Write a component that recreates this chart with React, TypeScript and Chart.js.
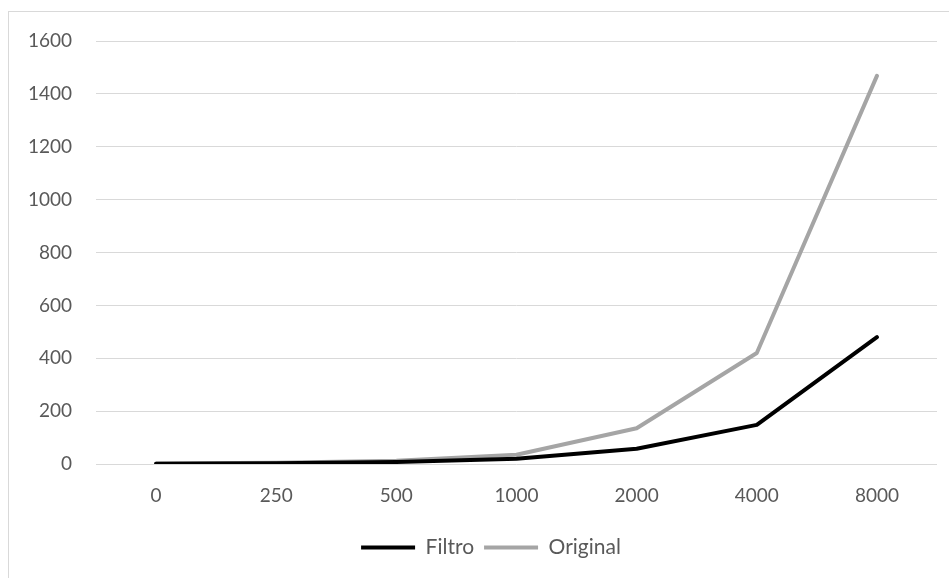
import React, { useEffect, useRef } from "react";
import { Chart, registerables } from "chart.js";

Chart.register(...registerables);

const categories = ["0", "250", "500", "1000", "2000", "4000", "8000"];
const filtroValues = [1, 3, 8, 20, 58, 148, 480];
const originalValues = [2, 5, 12, 35, 135, 420, 1468];
const yTicksMax = 1600;
const yTicksStep = 200;

const FONT = "Lato, 'Open Sans', sans-serif";
const TEXT = "#595959";

export default function App() {
  const ref = useRef<HTMLCanvasElement | null>(null);

  useEffect(() => {
    if (!ref.current) return;
    const legendShift = {
      id: "legendShift",
      afterLayout(chart: any) {
        const lg = chart.legend;
        if (lg) {
          lg.left += 18;
          lg.right += 18;
        }
      },
    };
    const chart = new Chart(ref.current, {
      type: "line",
      data: {
        labels: categories,
        datasets: [
          {
            label: "Filtro",
            data: filtroValues,
            borderColor: "#000000",
            backgroundColor: "#000000",
            borderWidth: 4,
            pointRadius: 0,
            borderCapStyle: "round",
            borderJoinStyle: "round",
            tension: 0,
          },
          {
            label: "Original",
            data: originalValues,
            borderColor: "#a5a5a5",
            backgroundColor: "#a5a5a5",
            borderWidth: 4,
            pointRadius: 0,
            borderCapStyle: "round",
            borderJoinStyle: "round",
            tension: 0,
          },
        ],
      },
      options: {
        animation: false,
        responsive: false,
        maintainAspectRatio: false,
        layout: { padding: { left: 0, right: 12, top: 29, bottom: 10 } },
        plugins: {
          tooltip: { enabled: false },
          legend: {
            position: "bottom",
            labels: {
              boxWidth: 54,
              boxHeight: 4,
              padding: 10,
              color: TEXT,
              font: { family: FONT, size: 21 },
              generateLabels: (c: any) =>
                Chart.defaults.plugins.legend.labels
                  .generateLabels(c)
                  .map((l: any) => ({ ...l, lineWidth: 0 })),
            },
          },
        },
        scales: {
          x: {
            offset: true,
            grid: { display: false, drawTicks: false },
            border: { display: false },
            ticks: {
              color: TEXT,
              font: { family: FONT, size: 19 },
              padding: 20,
              maxRotation: 0,
            },
            afterFit: (s: any) => {
              s.height = 63;
            },
          },
          y: {
            min: 0,
            max: yTicksMax,
            grid: { color: "#d9d9d9", lineWidth: 1, drawTicks: false },
            border: { display: false },
            ticks: {
              stepSize: yTicksStep,
              color: TEXT,
              font: { family: FONT, size: 19 },
              padding: 24,
              callback: (v: any) => String(v),
            },
            afterFit: (s: any) => {
              s.width = 87;
              s.paddingTop = 0;
              s.paddingBottom = 0;
            },
          },
        },
      },
      plugins: [legendShift],
    });
    return () => chart.destroy();
  }, []);

  return (
    <div
      style={{
        position: "absolute",
        left: 8,
        top: 11,
        width: 941,
        height: 567,
        borderLeft: "1px solid #d9d9d9",
        borderTop: "1px solid #d9d9d9",
        background: "#fff",
        overflow: "hidden",
      }}
    >
      <canvas ref={ref} width={940} height={566} style={{ display: "block" }} />
    </div>
  );
}
